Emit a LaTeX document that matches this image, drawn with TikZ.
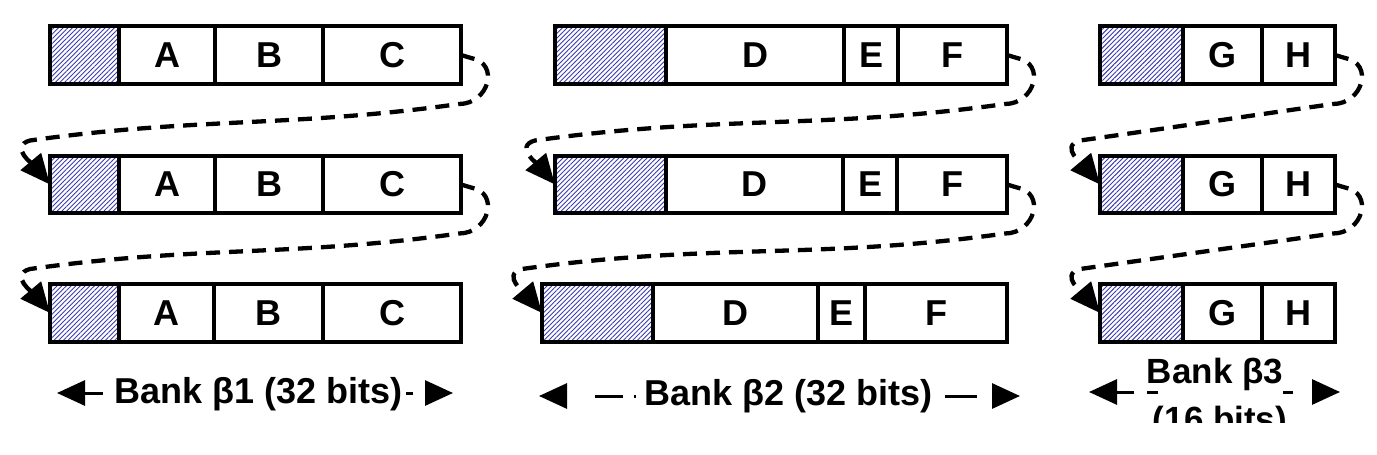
\documentclass[tikz,border=0pt]{standalone}
\usepackage{fontspec}
\setmainfont{Liberation Sans}
\usetikzlibrary{patterns.meta,arrows.meta,calc}
\definecolor{hatchblue}{RGB}{60,60,175}
\tikzset{
  cellbox/.style={draw=black, line width=3.8pt, rectangle, inner sep=0pt, outer sep=0pt,
    font=\bfseries\fontsize{36}{40}\selectfont},
  hatchbox/.style={cellbox, pattern={Lines[angle=45,distance=3.3pt,line width=0.9pt]}, pattern color=hatchblue},
  conn/.style={draw=black, line width=4.3pt, dash pattern=on 14pt off 9pt,
    -{Triangle[length=30pt,width=26pt]}},
  dimline/.style={draw=black, line width=3pt, -{Triangle[length=28pt,width=25pt]}},
  lab/.style={font=\bfseries\fontsize{36}{40}\selectfont, inner sep=0pt}
}
% name, style, x1, x2, ytop, ybot, text
\newcommand\mkcell[7]{%
  \node[#2, minimum width={(#4-#3)*1pt}, minimum height={(#6-#5)*1pt}] (#1)
    at ({(#3+#4)/2},{-(#5+#6)/2}) {#7};}
\newcommand\mkconn[2]{%
  \draw[conn] (#1.east) -- ($(#1.east)+(10,-3)$)
    to[out=-10,in=0,looseness=1.6] ($(#1.east)+(-2,-49)$)
    to[out=188,in=8] ($(#2.west)+(-20,44)$)
    to[out=195,in=130,looseness=1.2] (#2.west);}
\begin{document}
\begin{tikzpicture}[x=1pt,y=1pt]
\useasboundingbox (0,0) rectangle (1377,-455);
\fill[white] (0,0) rectangle (1377,-455);

% ---------- Bank 1 ----------
\mkcell{b1r1h}{hatchbox}{50}{119}{26}{84}{}
\mkcell{b1r1a}{cellbox}{119}{215}{26}{84}{A}
\mkcell{b1r1b}{cellbox}{215}{323}{26}{84}{B}
\mkcell{b1r1c}{cellbox}{323}{461}{26}{84}{C}
\mkcell{b1r2h}{hatchbox}{50}{119}{156}{213}{}
\mkcell{b1r2a}{cellbox}{119}{215}{156}{213}{A}
\mkcell{b1r2b}{cellbox}{215}{323}{156}{213}{B}
\mkcell{b1r2c}{cellbox}{323}{461}{156}{213}{C}
\mkcell{b1r3h}{hatchbox}{50}{119}{284}{342}{}
\mkcell{b1r3a}{cellbox}{119}{214}{284}{342}{A}
\mkcell{b1r3b}{cellbox}{214}{323}{284}{342}{B}
\mkcell{b1r3c}{cellbox}{323}{461}{284}{342}{C}

% ---------- Bank 2 ----------
\mkcell{b2r1h}{hatchbox}{555}{666}{26}{84}{}
\mkcell{b2r1d}{cellbox}{666}{844}{26}{84}{D}
\mkcell{b2r1e}{cellbox}{844}{898}{26}{84}{E}
\mkcell{b2r1f}{cellbox}{898}{1007}{26}{84}{F}
\mkcell{b2r2h}{hatchbox}{555}{666}{156}{213}{}
\mkcell{b2r2d}{cellbox}{666}{843}{156}{213}{D}
\mkcell{b2r2e}{cellbox}{843}{897}{156}{213}{E}
\mkcell{b2r2f}{cellbox}{897}{1007}{156}{213}{F}
\mkcell{b2r3h}{hatchbox}{542}{653}{284}{342}{}
\mkcell{b2r3d}{cellbox}{653}{818}{284}{342}{D}
\mkcell{b2r3e}{cellbox}{818}{865}{284}{342}{E}
\mkcell{b2r3f}{cellbox}{865}{1007}{284}{342}{F}

% ---------- Bank 3 ----------
\mkcell{b3r1h}{hatchbox}{1100}{1183}{26}{84}{}
\mkcell{b3r1g}{cellbox}{1183}{1262}{26}{84}{G}
\mkcell{b3r1i}{cellbox}{1262}{1335}{26}{84}{H}
\mkcell{b3r2h}{hatchbox}{1100}{1183}{156}{213}{}
\mkcell{b3r2g}{cellbox}{1183}{1262}{156}{213}{G}
\mkcell{b3r2i}{cellbox}{1262}{1335}{156}{213}{H}
\mkcell{b3r3h}{hatchbox}{1100}{1183}{284}{342}{}
\mkcell{b3r3g}{cellbox}{1183}{1262}{284}{342}{G}
\mkcell{b3r3i}{cellbox}{1262}{1335}{284}{342}{H}

% ---------- connectors ----------
\mkconn{b1r1c}{b1r2h}
\mkconn{b1r2c}{b1r3h}
\mkconn{b2r1f}{b2r2h}
\mkconn{b2r2f}{b2r3h}
\mkconn{b3r1i}{b3r2h}
\mkconn{b3r2i}{b3r3h}

% ---------- bank labels ----------
\node[lab, anchor=base] (l1) at (259,-403) {Bank β1 (32 bits)};
\coordinate (l1L) at (57,-393);
\coordinate (l1R) at (453,-393);
\draw[dimline, dash pattern=on 0pt off 12pt on 60pt] (l1.west |- l1L) -- (l1L);
\draw[dimline, dash pattern=on 0pt off 3pt on 7pt off 40pt] (l1.east |- l1R) -- (l1R);

\node[lab, anchor=base] (l2) at (789,-405) {Bank β2 (32 bits)};
\coordinate (l2L) at (539,-396);
\coordinate (l2R) at (1020,-396);
\draw[dimline, dash pattern=on 0pt off 9pt on 2pt off 11pt on 28pt off 40pt] (l2.west |- l2L) -- (l2L);
\draw[dimline, dash pattern=on 0pt off 12pt on 32pt off 40pt] (l2.east |- l2R) -- (l2R);

\node[lab, anchor=base, font=\bfseries\fontsize{35}{40}\selectfont] (l3) at (1215,-383) {Bank β3};
\coordinate (l3L) at (1089,-392);
\coordinate (l3R) at (1340,-392);
\draw[dimline, dash pattern=on 11pt off 13pt on 40pt] ($(l3.west |- l3L)+(11,0)$) -- (l3L);
\draw[dimline, dash pattern=on 10pt off 40pt] (l3.east |- l3R) -- (l3R);
\begin{scope}
  \clip (1080,-396) rectangle (1377,-422);
  \node[lab, anchor=base, font=\bfseries\fontsize{35}{40}\selectfont] (l3b) at (1220,-431) {(16 bits)};
\end{scope}
\end{tikzpicture}
\end{document}
